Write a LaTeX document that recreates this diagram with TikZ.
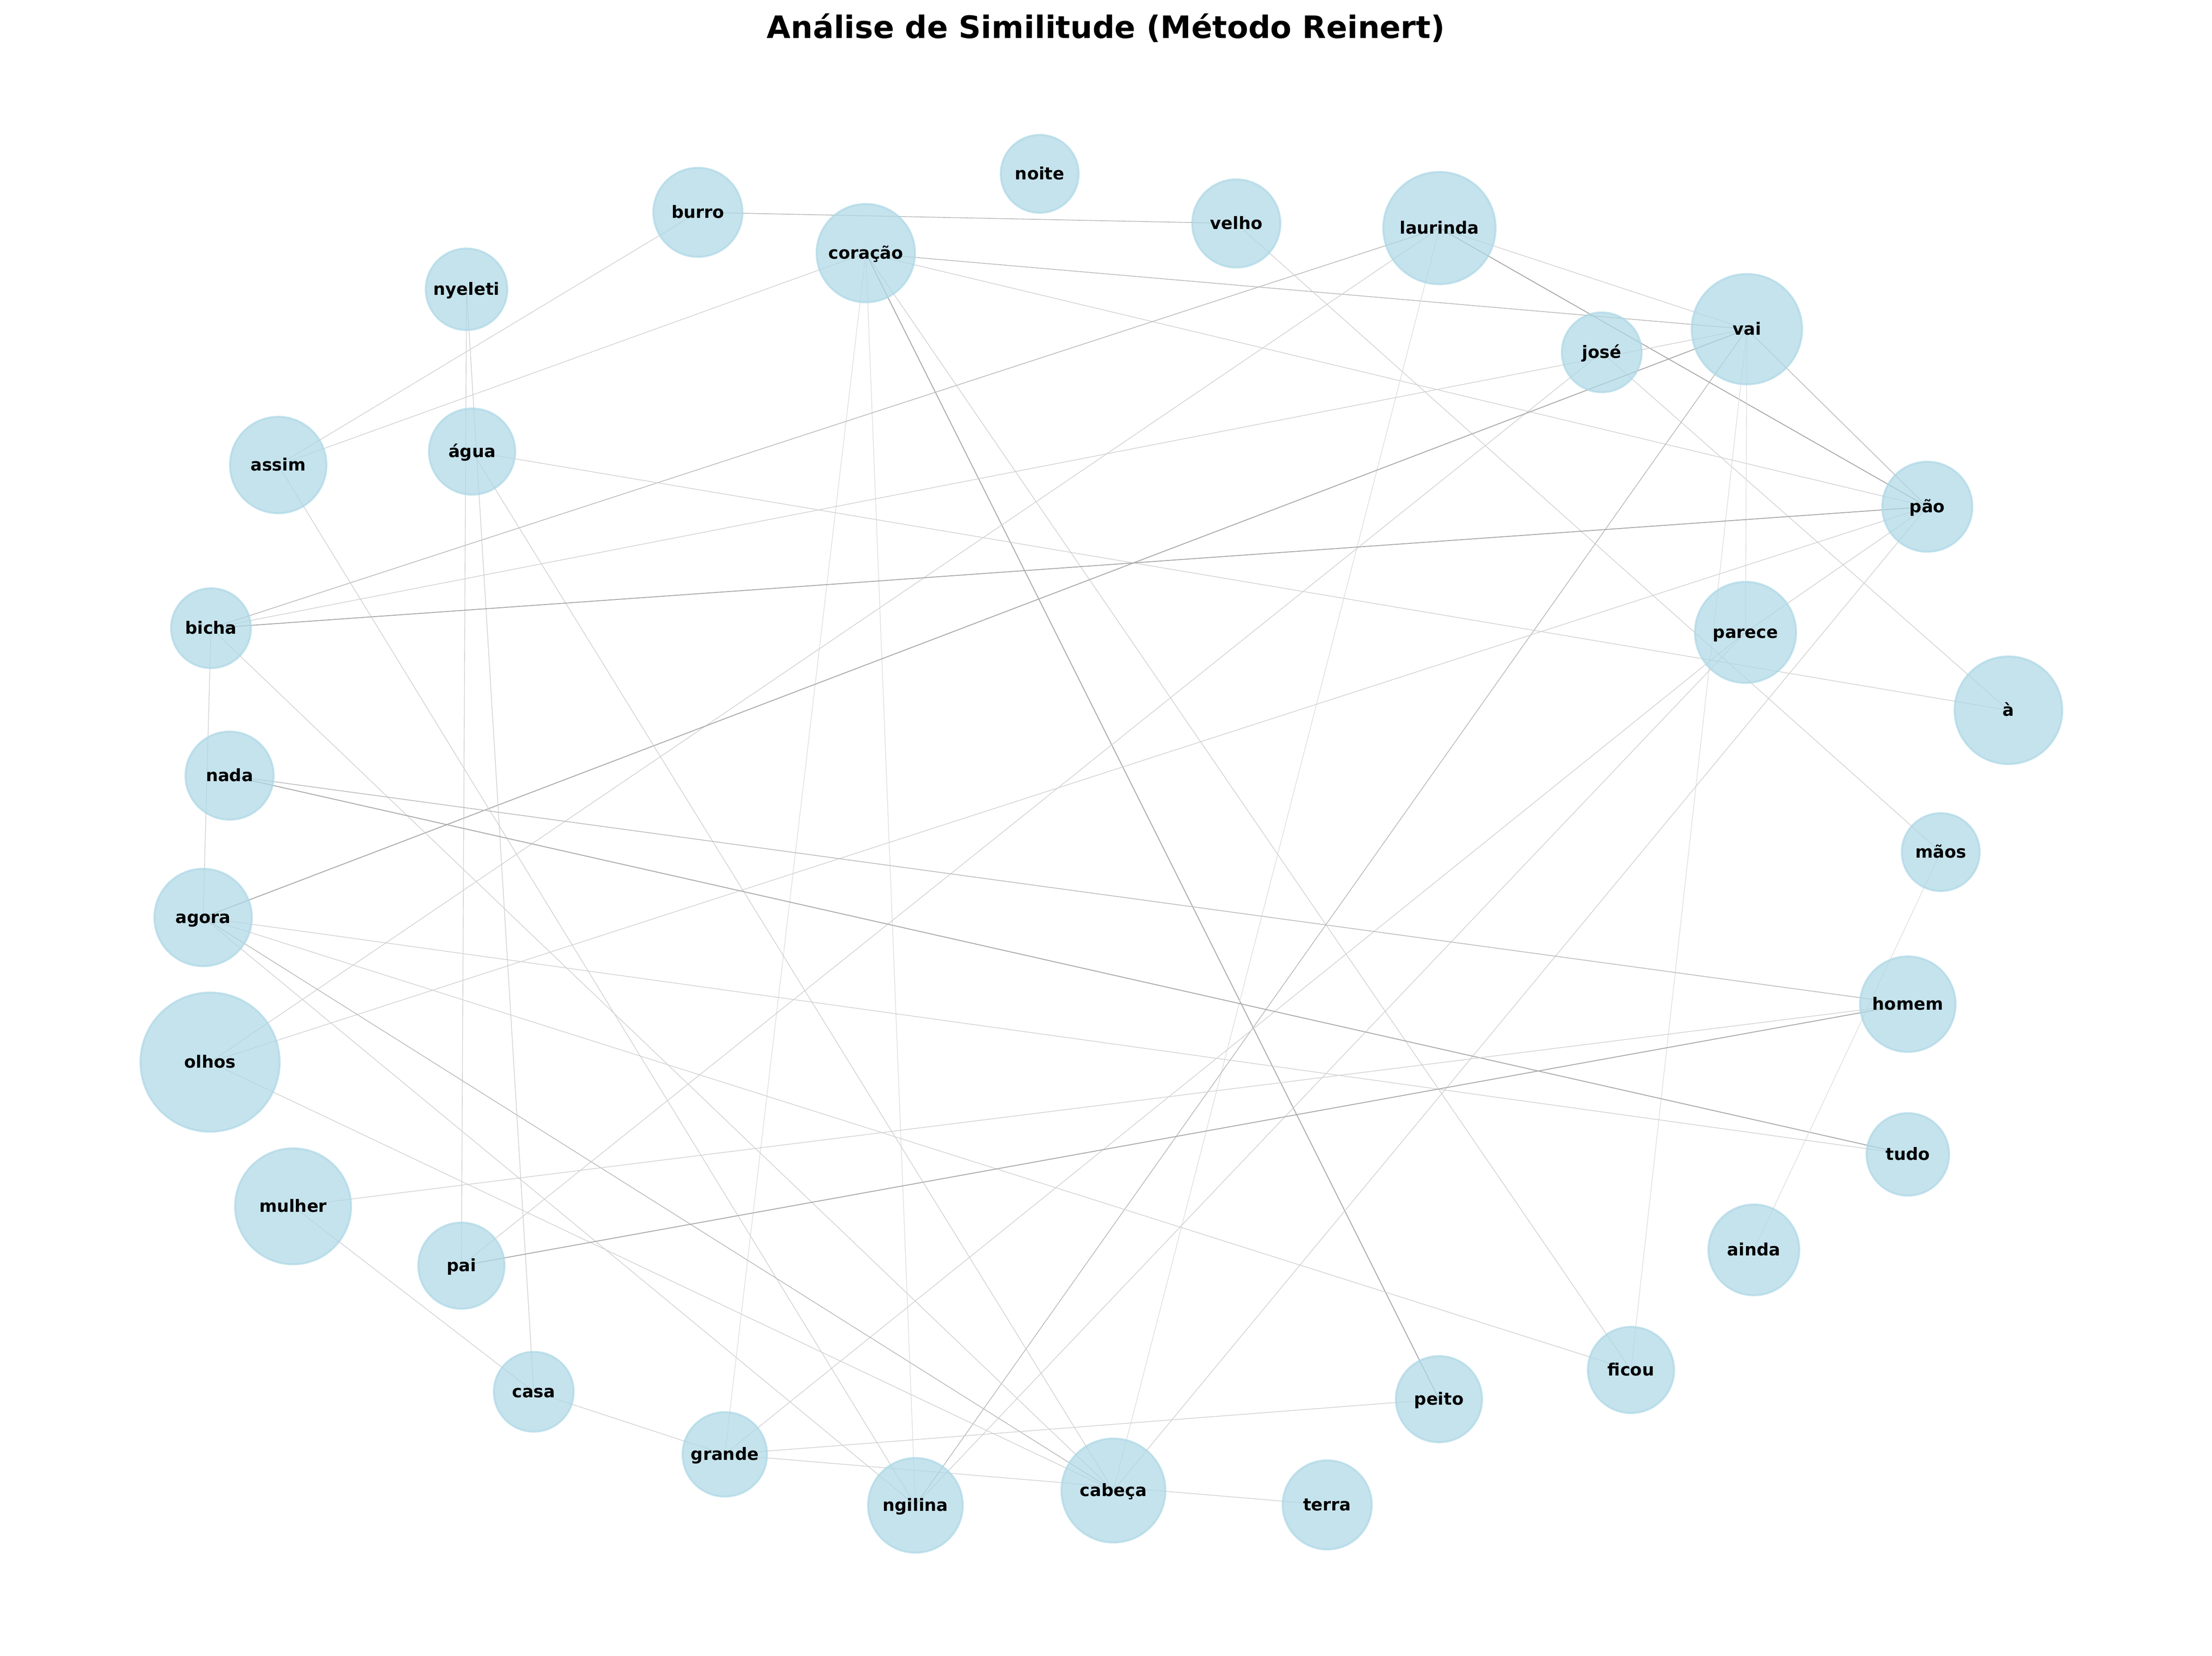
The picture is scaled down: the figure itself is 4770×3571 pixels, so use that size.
\documentclass[tikz,border=0pt]{standalone}
\usepackage{fontspec}
\setmainfont{DejaVu Sans}
\definecolor{lb}{HTML}{ADD8E6}
\newcommand\lblfont{\fontsize{8.8}{10}\selectfont\bfseries}
\pgfdeclarelayer{bglayer}
\pgfdeclarelayer{edgelayer}
\pgfsetlayers{bglayer,edgelayer,main}
\tikzset{
  wn/.style={circle, inner sep=0pt, minimum size=#1, fill=lb, fill opacity=0.7,
    draw=lb, draw opacity=0.7, line width=1pt, text opacity=1, font=\lblfont,
    text height=6.2pt, text depth=0pt},
  edark/.style={draw=black!34, line width=0.45pt},
  emid/.style={draw=black!27, line width=0.38pt},
  elight/.style={draw=black!19, line width=0.33pt},
  efaint/.style={draw=black!13, line width=0.33pt},
}
\begin{document}
\begin{tikzpicture}[x=0.24pt, y=-0.24pt]
\useasboundingbox (0,0) rectangle (4770,3571);
\begin{pgfonlayer}{bglayer}
\fill[white] (0,0) rectangle (4770,3571);
\end{pgfonlayer}
\node[font=\fontsize{16}{19}\selectfont\bfseries, anchor=base] (title) at (2385,82) {Análise de Similitude (Método Reinert)};
% nodes
\node[wn=40.3pt] (noite) at (2242,375) {noite};
\node[wn=46.1pt] (burro) at (1505,458) {burro};
\node[wn=45.6pt] (velho) at (2666,482) {velho};
\node[wn=50.9pt] (coracao) at (1867,546) {coração};
\node[wn=58.1pt] (laurinda) at (3104,492) {laurinda};
\node[wn=42.2pt] (nyeleti) at (1006,624) {nyeleti};
\node[wn=57.1pt] (vai) at (3767,710) {vai};
\node[wn=41.3pt] (jose) at (3454,760) {josé};
\node[wn=49.9pt] (assim) at (600,1003) {assim};
\node[wn=44.6pt] (agua) at (1018,974) {água};
\node[wn=46.6pt] (pao) at (4156,1093) {pão};
\node[wn=41.3pt] (bicha) at (455,1355) {bicha};
\node[wn=52.3pt] (parece) at (3764,1364) {parece};
\node[wn=55.7pt] (aa) at (4331,1532) {à};
\node[wn=45.6pt] (nada) at (495,1673) {nada};
\node[wn=40.3pt] (maos) at (4185,1838) {mãos};
\node[wn=50.4pt] (agora) at (438,1979) {agora};
\node[wn=49.4pt] (homem) at (4114,2166) {homem};
\node[wn=42.7pt] (tudo) at (4114,2490) {tudo};
\node[wn=72pt] (olhos) at (453,2291) {olhos};
\node[wn=60pt] (mulher) at (632,2602) {mulher};
\node[wn=44.6pt] (pai) at (995,2730) {pai};
\node[wn=47pt] (ainda) at (3782,2696) {ainda};
\node[wn=41.3pt] (casa) at (1151,3002) {casa};
\node[wn=43.7pt] (grande) at (1563,3137) {grande};
\node[wn=49pt] (ngilina) at (1974,3247) {ngilina};
\node[wn=53.8pt] (cabeca) at (2401,3215) {cabeça};
\node[wn=46.1pt] (terra) at (2862,3246) {terra};
\node[wn=44.6pt] (peito) at (3103,3018) {peito};
\node[wn=44.6pt] (ficou) at (3517,2955) {ficou};
% edges
\begin{pgfonlayer}{edgelayer}
\draw[emid] (burro.center) -- (velho.center);
\draw[elight] (burro.center) -- (assim.center);
\draw[emid] (coracao.center) -- (vai.center);
\draw[elight] (coracao.center) -- (pao.center);
\draw[elight] (coracao.center) -- (assim.center);
\draw[efaint] (coracao.center) -- (grande.center);
\draw[efaint] (coracao.center) -- (ngilina.center);
\draw[edark] (coracao.center) -- (peito.center);
\draw[elight] (coracao.center) -- (ficou.center);
\draw[elight] (laurinda.center) -- (vai.center);
\draw[edark] (laurinda.center) -- (pao.center);
\draw[emid] (laurinda.center) -- (bicha.center);
\draw[elight] (laurinda.center) -- (olhos.center);
\draw[efaint] (laurinda.center) -- (cabeca.center);
\draw[elight] (velho.center) -- (maos.center);
\draw[elight] (jose.center) -- (pai.center);
\draw[elight] (jose.center) -- (aa.center);
\draw[elight] (vai.center) -- (bicha.center);
\draw[emid] (vai.center) -- (pao.center);
\draw[edark] (vai.center) -- (agora.center);
\draw[efaint] (vai.center) -- (parece.center);
\draw[efaint] (vai.center) -- (ficou.center);
\draw[emid] (vai.center) -- (ngilina.center);
\draw[elight] (nyeleti.center) -- (pai.center);
\draw[elight] (nyeleti.center) -- (casa.center);
\draw[elight] (agua.center) -- (aa.center);
\draw[elight] (agua.center) -- (cabeca.center);
\draw[elight] (assim.center) -- (ngilina.center);
\draw[edark] (pao.center) -- (bicha.center);
\draw[elight] (pao.center) -- (olhos.center);
\draw[elight] (pao.center) -- (cabeca.center);
\draw[elight] (pao.center) -- (parece.center);
\draw[elight] (parece.center) -- (grande.center);
\draw[elight] (parece.center) -- (ngilina.center);
\draw[elight] (bicha.center) -- (agora.center);
\draw[elight] (bicha.center) -- (cabeca.center);
\draw[emid] (nada.center) -- (homem.center);
\draw[edark] (nada.center) -- (tudo.center);
\draw[efaint] (maos.center) -- (ainda.center);
\draw[elight] (agora.center) -- (tudo.center);
\draw[elight] (agora.center) -- (ficou.center);
\draw[emid] (agora.center) -- (cabeca.center);
\draw[elight] (agora.center) -- (ngilina.center);
\draw[elight] (olhos.center) -- (cabeca.center);
\draw[elight] (mulher.center) -- (homem.center);
\draw[edark] (pai.center) -- (homem.center);
\draw[elight] (mulher.center) -- (casa.center);
\draw[elight] (casa.center) -- (grande.center);
\draw[elight] (grande.center) -- (peito.center);
\draw[elight] (grande.center) -- (terra.center);
\end{pgfonlayer}
\end{tikzpicture}
\end{document}
